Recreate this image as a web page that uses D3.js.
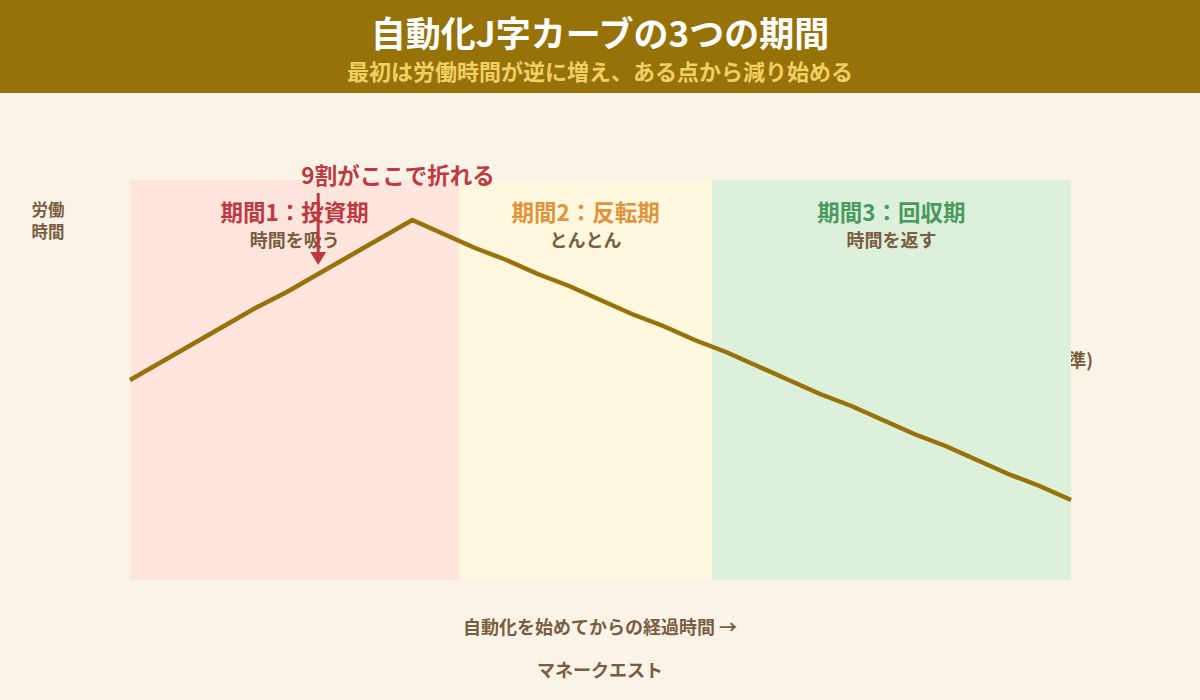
<!DOCTYPE html>
<html><head><meta charset="utf-8">
<script src="https://cdn.jsdelivr.net/npm/d3@7"></script>
<style>
html,body{margin:0;padding:0;background:#faf3e8;}
svg text{font-family:"Noto Sans CJK JP","Noto Sans",sans-serif;}
</style></head>
<body><svg id="c" width="1200" height="700"></svg>
<script>
// ---- data ----
const months = [0,1,2,3,4,5,6,7,8,9,10,11,12,13,14,15,16,17,18,19,20,21,22,23,24,25,26,27,28,29,30];
const hours  = [100,109,118,127,136,144,153,162,171,180,173,166,160,153,147,140,133,127,120,114,107,100,93,87,80,73,67,60,53,47,40];
const periodNames = ["期間1：投資期","期間2：反転期","期間3：回収期"];
const periodSubs  = ["時間を吸う","とんとん","時間を返す"];
const periodStart = [0,10.5,18.55];
const periodEnd   = [10.5,18.55,30];
const periodFill  = ["#fee6de","#fff8df","#ddf0dc"];
const periodColor = ["#c0393f","#e0943a","#4a9a5e"];
const yLabelLines = ["労働","時間"];
const breakMonth = 6;
const baseline = 100;

const svg = d3.select("#c");
const W=1200,H=700;
const m={l:130,r:129,t:180,b:120};
const x=d3.scaleLinear().domain([0,30]).range([m.l,W-m.r]);
const y=d3.scaleLinear().domain([0,200]).range([H-m.b,m.t]);

svg.append("rect").attr("width",W).attr("height",H).attr("fill","#faf3e8");
// header
svg.append("rect").attr("width",W).attr("height",93).attr("fill","#967209");
svg.append("text").attr("x",600).attr("y",47).attr("text-anchor","middle")
  .attr("font-size",35).attr("font-weight",700).attr("fill","#ffffff").text("自動化J字カーブの3つの期間");
svg.append("text").attr("x",600).attr("y",80).attr("text-anchor","middle")
  .attr("font-size",22).attr("font-weight",700).attr("fill","#f2cf63").text("最初は労働時間が逆に増え、ある点から減り始める");

// baseline label (drawn beneath the period panels)
svg.append("text").attr("x",1093).attr("y",y(baseline)-13).attr("text-anchor","end")
  .attr("font-size",18).attr("font-weight",700).attr("fill","#7a5c3e").text("(開始時の水準)");

// period panels
periodNames.forEach((n,i)=>{
  svg.append("rect").attr("x",x(periodStart[i])).attr("y",y(200))
    .attr("width",x(periodEnd[i])-x(periodStart[i])).attr("height",y(0)-y(200))
    .attr("fill",periodFill[i]);
});
periodNames.forEach((n,i)=>{
  const cx=(x(periodStart[i])+x(periodEnd[i]))/2;
  svg.append("text").attr("x",cx).attr("y",221).attr("text-anchor","middle")
    .attr("font-size",22.5).attr("font-weight",700).attr("fill",periodColor[i]).text(n);
  svg.append("text").attr("x",cx).attr("y",247).attr("text-anchor","middle")
    .attr("font-size",18).attr("font-weight",700).attr("fill","#7a5c3e").text(periodSubs[i]);
});

// line
const line=d3.line().x((d,i)=>x(months[i])).y(d=>y(d));
svg.append("path").datum(hours).attr("d",line).attr("fill","none")
  .attr("stroke","#987208").attr("stroke-width",4.5).attr("stroke-linejoin","miter");

// annotation
const ax=x(breakMonth);
svg.append("line").attr("x1",ax).attr("x2",ax).attr("y1",193).attr("y2",254)
  .attr("stroke","#c0393f").attr("stroke-width",3);
svg.append("path").attr("d",`M${ax-8},252L${ax+8},252L${ax},265Z`).attr("fill","#c0393f");
svg.append("text").attr("x",398).attr("y",184).attr("text-anchor","middle")
  .attr("font-size",22.5).attr("font-weight",700).attr("fill","#c0393f").text("9割がここで折れる");

// axis labels
yLabelLines.forEach((t,i)=>{
  svg.append("text").attr("x",48).attr("y",216+i*22).attr("text-anchor","middle")
    .attr("font-size",16.5).attr("font-weight",700).attr("fill","#7a5c3e").text(t);
});
svg.append("text").attr("x",600).attr("y",634).attr("text-anchor","middle")
  .attr("font-size",18).attr("font-weight",700).attr("fill","#7a5c3e").text("自動化を始めてからの経過時間 →");
svg.append("text").attr("x",600).attr("y",677).attr("text-anchor","middle")
  .attr("font-size",18).attr("font-weight",700).attr("fill","#7a5c3e").text("マネークエスト");
</script></body></html>
